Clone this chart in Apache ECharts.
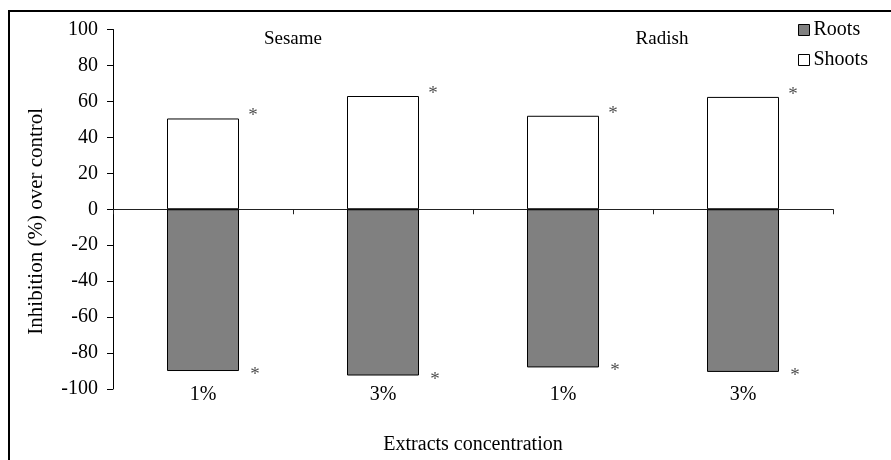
<!DOCTYPE html>
<html>
<head>
<meta charset="utf-8">
<script src="https://cdn.jsdelivr.net/npm/echarts@6/dist/echarts.min.js"></script>
<style>html,body{margin:0;padding:0;background:#fff;}#c{width:891px;height:460px;}</style>
</head>
<body>
<div id="c"></div>
<script>
const categories = ['1%', '3%', '1%', '3%'];
const shoots = [50.5, 63, 52, 62.5];
const roots = [-90, -92.5, -88, -90.5];
const yTicks = { min: -100, max: 100, step: 20 };
const groupLabels = ['Sesame', 'Radish'];
const seriesNames = ['Roots', 'Shoots'];
const mark = '*';

const FONT = 'Liberation Serif';
const chart = echarts.init(document.getElementById('c'), null, { renderer: 'canvas' });

const option = {
  animation: false,
  backgroundColor: '#fff',
  textStyle: { fontFamily: FONT, color: '#000' },
  grid: { left: 113, right: 58, top: 29.5, bottom: 69.5 },
  legend: {
    data: seriesNames,
    orient: 'vertical',
    left: 793, top: 15,
    icon: 'rect',
    itemWidth: 11, itemHeight: 11, itemGap: 10,
    textStyle: { fontFamily: FONT, fontSize: 20, color: '#000', padding: [0,0,0,-1] },
    itemStyle: { borderColor: '#000', borderWidth: 1 }
  },
  xAxis: [
    {
      type: 'category', data: categories, position: 'bottom',
      axisLine: { show: false, onZero: false },
      axisTick: { show: false },
      axisLabel: { margin: -4, fontFamily: FONT, fontSize: 20, color: '#000' },
      name: 'Extracts concentration', nameLocation: 'middle', nameGap: 46,
      nameTextStyle: { fontFamily: FONT, fontSize: 20, color: '#000' }
    },
    {
      type: 'category', data: categories, position: 'bottom',
      axisLine: { show: true, onZero: true, lineStyle: { color: '#222', width: 1 } },
      axisTick: { show: true, length: 5, lineStyle: { color: '#222', width: 1 } },
      axisLabel: { show: false }
    }
  ],
  yAxis: {
    type: 'value', min: yTicks.min, max: yTicks.max, interval: yTicks.step,
    axisLine: { show: true, onZero: false, lineStyle: { color: '#000', width: 1 } },
    axisTick: { show: true, length: 6, lineStyle: { color: '#000', width: 1 } },
    splitLine: { show: false },
    axisLabel: { margin: 15, fontFamily: FONT, fontSize: 20, color: '#000' },
    name: 'Inhibition (%) over control', nameLocation: 'middle', nameGap: 66,
    nameTextStyle: { fontFamily: FONT, fontSize: 21, color: '#000', padding: [0, 24, 0, 0] }
  },
  series: [
    {
      name: seriesNames[0], type: 'bar', stack: 'a', data: roots, barWidth: 72,
      itemStyle: { color: '#808080', borderColor: '#000', borderWidth: 1 }
    },
    {
      name: seriesNames[1], type: 'bar', stack: 'a', data: shoots, barWidth: 72,
      itemStyle: { color: '#fff', borderColor: '#000', borderWidth: 1 }
    },
    {
      type: 'scatter', data: shoots, symbolSize: 0, silent: true,
      label: { show: true, position: 'inside', formatter: mark, offset: [50, -2],
        fontFamily: FONT, fontSize: 19, color: '#222' }
    },
    {
      type: 'scatter', data: roots, symbolSize: 0, silent: true,
      label: { show: true, position: 'inside', formatter: mark, offset: [52, 4],
        fontFamily: FONT, fontSize: 19, color: '#222' }
    }
  ],
  graphic: [
    { type: 'rect', shape: { x: 9, y: 11, width: 1000, height: 1000 }, style: { fill: 'none', stroke: '#000', lineWidth: 2 }, silent: true },
    { type: 'text', x: 293, y: 39, style: { text: groupLabels[0], font: '19px "Liberation Serif"', fill: '#000', align: 'center', verticalAlign: 'middle' } },
    { type: 'text', x: 662, y: 39, style: { text: groupLabels[1], font: '19px "Liberation Serif"', fill: '#000', align: 'center', verticalAlign: 'middle' } }
  ]
};
chart.setOption(option);
</script>
</body>
</html>
